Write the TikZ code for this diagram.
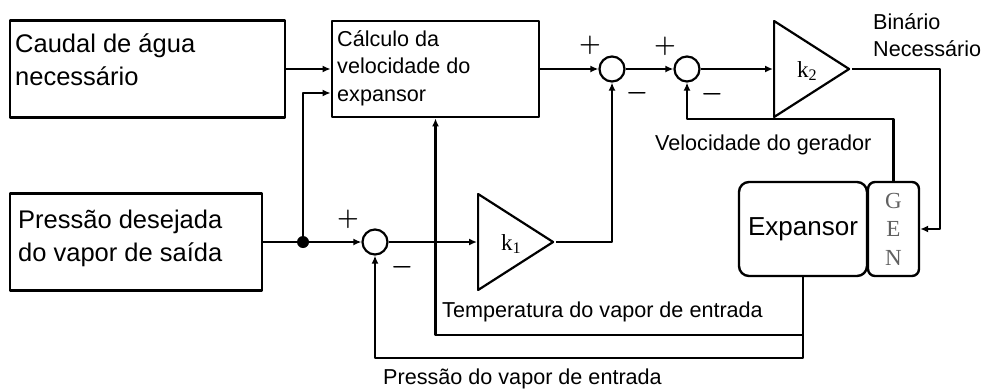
\documentclass[tikz,border=0pt]{standalone}
\usepackage{fontspec}
\setmainfont{Liberation Sans}
\newfontfamily\serifk{Liberation Serif}
\usetikzlibrary{arrows.meta,shapes.geometric,positioning}

\newcommand{\grande}{\fontsize{25.5}{33}\selectfont}
\newcommand{\medio}{\fontsize{21.6}{27.5}\selectfont}
\newcommand{\sinal}{\fontsize{34}{36}\selectfont\boldmath}

\begin{document}
\begin{tikzpicture}[x=1pt,y=-1pt,line join=round,>={Latex[length=8pt,width=7pt]},
  blok/.style={draw,line width=2.8pt,inner sep=0pt},
  redondo/.style={draw,line width=2.4pt,inner sep=0pt,rounded corners=#1},
  soma/.style={draw,circle,line width=2.2pt,minimum size=25pt,inner sep=0pt},
  ganho/.style={draw,isosceles triangle,isosceles triangle stretches,line width=2.2pt,
    inner sep=0pt,minimum width=96pt,minimum height=75pt},
  ktxt/.style={inner sep=0pt,anchor=base west,font=\serifk\fontsize{23}{25}\selectfont},
  fio/.style={line width=2.2pt},
  txt/.style={inner sep=0pt,align=left}]

  % Frame
  \useasboundingbox (0,0) rectangle (984,389);

  % Blocks
  \node[blok,minimum width=275pt,minimum height=97pt] (caudal) at (147.5,69) {};
  \node[txt,anchor=north west,font=\grande] (caudaltxt) at (15,34) {Caudal de água\\necessário};
  \node[blok,minimum width=207pt,minimum height=96pt] (calculo) at (435.5,69) {};
  \node[txt,anchor=north west,font=\medio] (calculotxt) at (337,30) {Cálculo da\\velocidade do\\expansor};
  \node[blok,minimum width=252pt,minimum height=97pt] (pressao) at (136,242) {};
  \node[txt,anchor=north west,font=\grande] (pressaotxt) at (18,210) {Pressão desejada\\do vapor de saída};
  \node[redondo=10pt,minimum width=128pt,minimum height=94pt,font=\fontsize{26}{28}\selectfont] (expansor) at (803,229) {Expansor};
  \node[redondo=7pt,minimum width=51pt,minimum height=94pt,align=center,text=black!62,
    font=\serifk\fontsize{23}{28.5}\selectfont] (gen) at (893.5,229) {G\\E\\N};

  % Summing junctions and gains
  \node[soma] (soma1) at (612,69) {};
  \node[soma] (soma2) at (687,69) {};
  \node[soma] (soma3) at (375,242) {};
  \node[ganho,anchor=west] (ganho2) at (773,69) {};
  \node[ganho,anchor=west] (ganho1) at (477,242) {};
  \node[ktxt] (k2) at ([shift={(24,8)}]ganho2.west) {k\textsubscript{2}};
  \node[ktxt] (k1) at ([shift={(24,8)}]ganho1.west) {k\textsubscript{1}};
  \node[circle,fill,minimum size=12pt,inner sep=0pt] (junc) at (303,242) {};

  % Signs
  \node[font=\sinal] (mais1) at ([shift={(-22,-24)}]soma1) {$+$};
  \node[font=\sinal] (menos1) at ([shift={(25,24)}]soma1) {$-$};
  \node[font=\sinal] (mais2) at ([shift={(-22,-23)}]soma2) {$+$};
  \node[font=\sinal] (menos2) at ([shift={(25,25)}]soma2) {$-$};
  \node[font=\sinal] (mais3) at ([shift={(-27,-23)}]soma3) {$+$};
  \node[font=\sinal] (menos3) at ([shift={(27,25)}]soma3) {$-$};

  % Forward paths
  \draw[fio,->] (caudal.east) -- (calculo.west);
  \draw[fio,->] (pressao.east) -- (soma3.west);
  \draw[fio,->] (junc.center) |- ([yshift=-24pt]calculo.west);
  \draw[fio,->] (calculo.east) -- (soma1.west);
  \draw[fio,->] (soma1.east) -- (soma2.west);
  \draw[fio,->] (soma2.east) -- (ganho2.west);
  \draw[fio,->] (soma3.east) -- (ganho1.west);
  \draw[fio,->] (ganho1.apex) -| (soma1.south);
  \draw[fio,->] (ganho2.apex) -- ++(88,0) |- (gen.east);

  % Feedback paths
  \draw[fio,->] (gen.north) -- ++(0,-62) -| (soma2.south);
  \draw[fio,->] (expansor.south) -- ++(0,58) -| (calculo.south);
  \draw[fio,->] (expansor.south) -- ++(0,81) -| (soma3.south);

  % Signal labels
  \node[txt,anchor=north west,font=\medio] (binario) at (873,13) {Binário\\Necessário};
  \node[txt,anchor=base west,font=\medio] (velocidade) at (655,150) {Velocidade do gerador};
  \node[txt,anchor=base west,font=\medio] (temperatura) at (442,317) {Temperatura do vapor de entrada};
  \node[txt,anchor=base west,font=\medio] (pressaoent) at (383,384) {Pressão do vapor de entrada};
\end{tikzpicture}
\end{document}
